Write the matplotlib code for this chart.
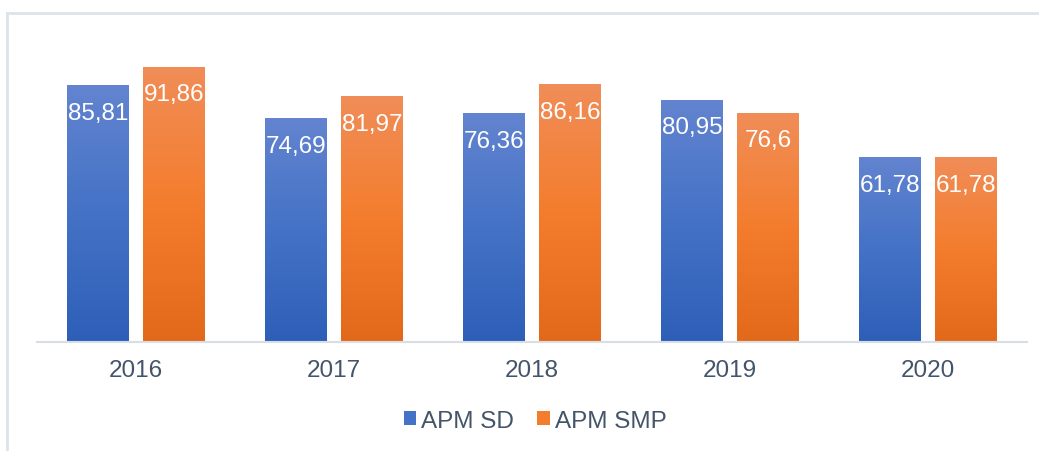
import numpy as np
import matplotlib
matplotlib.use("Agg")
import matplotlib.pyplot as plt
from matplotlib.colors import LinearSegmentedColormap
from matplotlib.patches import Rectangle
from matplotlib.lines import Line2D

years = ["2016", "2017", "2018", "2019", "2020"]
apm_sd = [85.81, 74.69, 76.36, 80.95, 61.78]
apm_smp = [91.86, 81.97, 86.16, 76.6, 61.78]
labels_sd = ["85,81", "74,69", "76,36", "80,95", "61,78"]
labels_smp = ["91,86", "81,97", "86,16", "76,6", "61,78"]
series_names = ["APM SD", "APM SMP"]

plt.rcParams['font.family'] = ['Liberation Sans', 'DejaVu Sans']

fig = plt.figure(figsize=(10.39, 4.52), dpi=100)
ax = fig.add_axes([37/1039, (452-343)/452, (1027-37)/1039, (343-43.5)/452])

blue_cmap = LinearSegmentedColormap.from_list("b", ["#2E5FB8", "#4472C6", "#6384D0"])
orange_cmap = LinearSegmentedColormap.from_list("o", ["#E2691A", "#F47D2D", "#F08D58"])

x = np.arange(len(years))
w = 0.313
off = 0.192
grad = np.linspace(0, 1, 256).reshape(-1, 1)

def gradient_bars(xs, vals, cmap, labels):
    bars = ax.bar(xs, vals, width=w, facecolor="none", edgecolor="none", zorder=2)
    for b, lab in zip(bars, labels):
        x0 = b.get_x(); x1 = x0 + b.get_width(); h = b.get_height()
        im = ax.imshow(grad, cmap=cmap, extent=[x0, x1, 0, h], origin="lower",
                       aspect="auto", zorder=2, interpolation="bicubic")
        im.set_clip_path(b)
        ax.text(x0 + b.get_width()/2, h - 9.2, lab, ha="center", va="center",
                color="white", fontsize=17.5, zorder=3)
    return bars

gradient_bars(x - off, apm_sd, blue_cmap, labels_sd)
gradient_bars(x + off, apm_smp, orange_cmap, labels_smp)

ax.set_xlim(-0.5, len(years) - 0.5)
ax.set_ylim(0, 100)
ax.set_xticks(x)
ax.set_xticklabels(years, fontsize=17.5, color="#44546A")
ax.tick_params(axis="x", length=0, pad=12)
ax.set_yticks([])
for s in ["top", "right", "left"]:
    ax.spines[s].set_visible(False)
ax.spines["bottom"].set_color("#D9DEE4")
ax.spines["bottom"].set_linewidth(1.5)
ax.set_facecolor("none")

handles = [Rectangle((0, 0), 1, 1, facecolor="#4472C6", edgecolor="none"),
           Rectangle((0, 0), 1, 1, facecolor="#F47D2D", edgecolor="none")]
leg = fig.legend(handles, series_names, loc="center", bbox_to_anchor=(535/1039, (452-422)/452),
                 ncol=2, frameon=False, fontsize=17.5, handlelength=0.52, handleheight=0.52,
                 handletextpad=0.2, columnspacing=0.95, labelcolor="#44546A")

# outer frame (top and left edges visible)
fig.add_artist(Line2D([7/1039, 1.0], [(452-14)/452]*2, color="#DDE3EA", lw=2, transform=fig.transFigure))
fig.add_artist(Line2D([7/1039]*2, [0, (452-14)/452], color="#DDE3EA", lw=2, transform=fig.transFigure))

fig.savefig("out.png", dpi=100)
